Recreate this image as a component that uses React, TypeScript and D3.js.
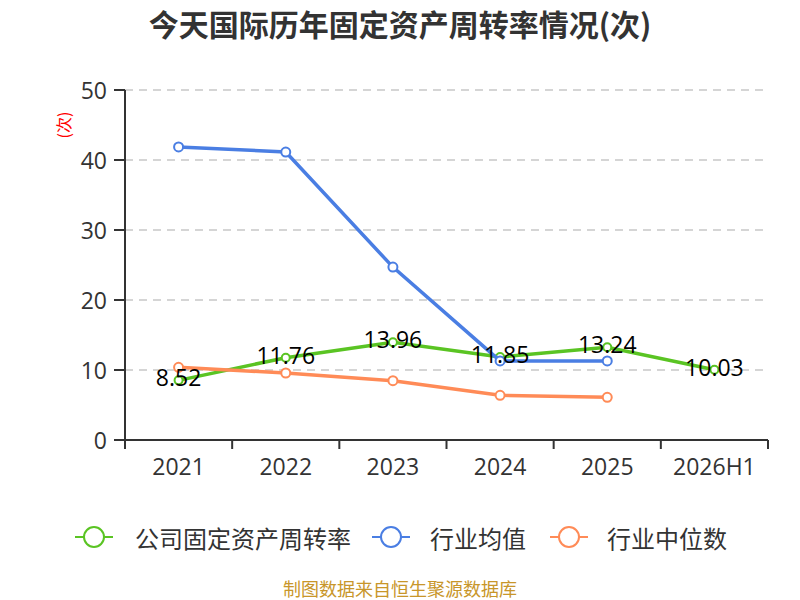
import React from "react";
import * as d3 from "d3";

const categories = ["2021", "2022", "2023", "2024", "2025", "2026H1"];
const companyRate = [8.52, 11.76, 13.96, 11.85, 13.24, 10.03];
const industryAvg = [41.86, 41.14, 24.7, 11.3, 11.3];
const industryMedian = [10.38, 9.57, 8.47, 6.38, 6.1];
const yTicks = [0, 10, 20, 30, 40, 50];

const seriesNames = ["公司固定资产周转率", "行业均值", "行业中位数"];
const colors = ["#5ac423", "#4a7ee3", "#ff8b57"];

const numFont = "'Open Sans', 'Noto Sans CJK SC', sans-serif";
const cjkFont = "'Noto Sans CJK SC', sans-serif";

export default function App() {
	const x = d3.scaleBand<string>().domain(categories).range([125, 768]);
	const y = d3.scaleLinear().domain([0, 50]).range([440, 90]);
	const cx = (c: string) => (x(c) ?? 0) + x.bandwidth() / 2;

	const line = d3
		.line<number>()
		.x((_, i) => cx(categories[i]))
		.y((d) => y(d));

	const allSeries = [companyRate, industryAvg, industryMedian];

	// legend positions: line start, text start
	const legend = [
		{ x: 75, tx: 135 },
		{ x: 372, tx: 430 },
		{ x: 550, tx: 607 },
	];

	return (
		<svg
			width={800}
			height={600}
			style={{ position: "absolute", left: 0, top: 0, background: "#fff" }}
		>
			<text
				x={400}
				y={23}
				textAnchor="middle"
				dominantBaseline="central"
				fontFamily={cjkFont}
				fontWeight="bold"
				fontSize={30}
				fill="#333"
			>
				今天国际历年固定资产周转率情况(次)
			</text>

			{/* unit label */}
			<text
				transform="translate(63,125) rotate(-90)"
				textAnchor="middle"
				dominantBaseline="central"
				fontFamily={cjkFont}
				fontSize={16}
				fill="#ff0000"
			>
				(次)
			</text>

			{/* grid */}
			{yTicks
				.filter((t) => t > 0)
				.map((t) => (
					<line
						key={"g" + t}
						x1={125}
						x2={768}
						y1={y(t)}
						y2={y(t)}
						stroke="#c8c8c8"
						strokeWidth={1.5}
						strokeDasharray="8,6"
					/>
				))}

			{/* y axis */}
			<line x1={125} x2={125} y1={90} y2={440} stroke="#333" strokeWidth={2} />
			{yTicks.map((t) => (
				<g key={"y" + t}>
					<line x1={114} x2={125} y1={y(t)} y2={y(t)} stroke="#333" strokeWidth={2} />
					<text
						x={107}
						y={y(t)}
						textAnchor="end"
						dominantBaseline="central"
						fontFamily={numFont}
						fontSize={23}
						fill="#333"
					>
						{t}
					</text>
				</g>
			))}

			{/* x axis */}
			<line x1={125} x2={768} y1={440} y2={440} stroke="#333" strokeWidth={2} />
			{[...categories.map((c) => x(c) ?? 0), 768].map((p, i) => (
				<line key={"xt" + i} x1={p} x2={p} y1={440} y2={449} stroke="#333" strokeWidth={2} />
			))}
			{categories.map((c) => (
				<text
					key={"xl" + c}
					x={cx(c)}
					y={466}
					textAnchor="middle"
					dominantBaseline="central"
					fontFamily={numFont}
					fontSize={23}
					fill="#333"
				>
					{c}
				</text>
			))}

			{/* series */}
			{allSeries.map((s, si) => (
				<g key={"s" + si}>
					<path d={line(s) ?? ""} fill="none" stroke={colors[si]} strokeWidth={3.5} />
					{s.map((v, i) => (
						<circle
							key={i}
							cx={cx(categories[i])}
							cy={y(v)}
							r={si === 0 ? 4 : 4.5}
							fill="#fff"
							stroke={colors[si]}
							strokeWidth={2}
						/>
					))}
				</g>
			))}

			{/* data labels */}
			{companyRate.map((v, i) => (
				<text
					key={"dl" + i}
					x={cx(categories[i])}
					y={y(v) - 3}
					textAnchor="middle"
					dominantBaseline="central"
					fontFamily={numFont}
					fontSize={23}
					fill="#000"
				>
					{v.toFixed(2)}
				</text>
			))}

			{/* legend */}
			{seriesNames.map((n, i) => (
				<g key={"lg" + i}>
					<line
						x1={legend[i].x}
						x2={legend[i].x + 38}
						y1={537}
						y2={537}
						stroke={colors[i]}
						strokeWidth={2}
					/>
					<circle cx={legend[i].x + 19} cy={537} r={10} fill="#fff" stroke={colors[i]} strokeWidth={2} />
					<text
						x={legend[i].tx}
						y={537}
						dominantBaseline="central"
						fontFamily={cjkFont}
						fontSize={24}
						fill="#333"
					>
						{n}
					</text>
				</g>
			))}

			<text
				x={400}
				y={588}
				textAnchor="middle"
				dominantBaseline="central"
				fontFamily={cjkFont}
				fontSize={18}
				fill="#c8962a"
			>
				制图数据来自恒生聚源数据库
			</text>
		</svg>
	);
}
